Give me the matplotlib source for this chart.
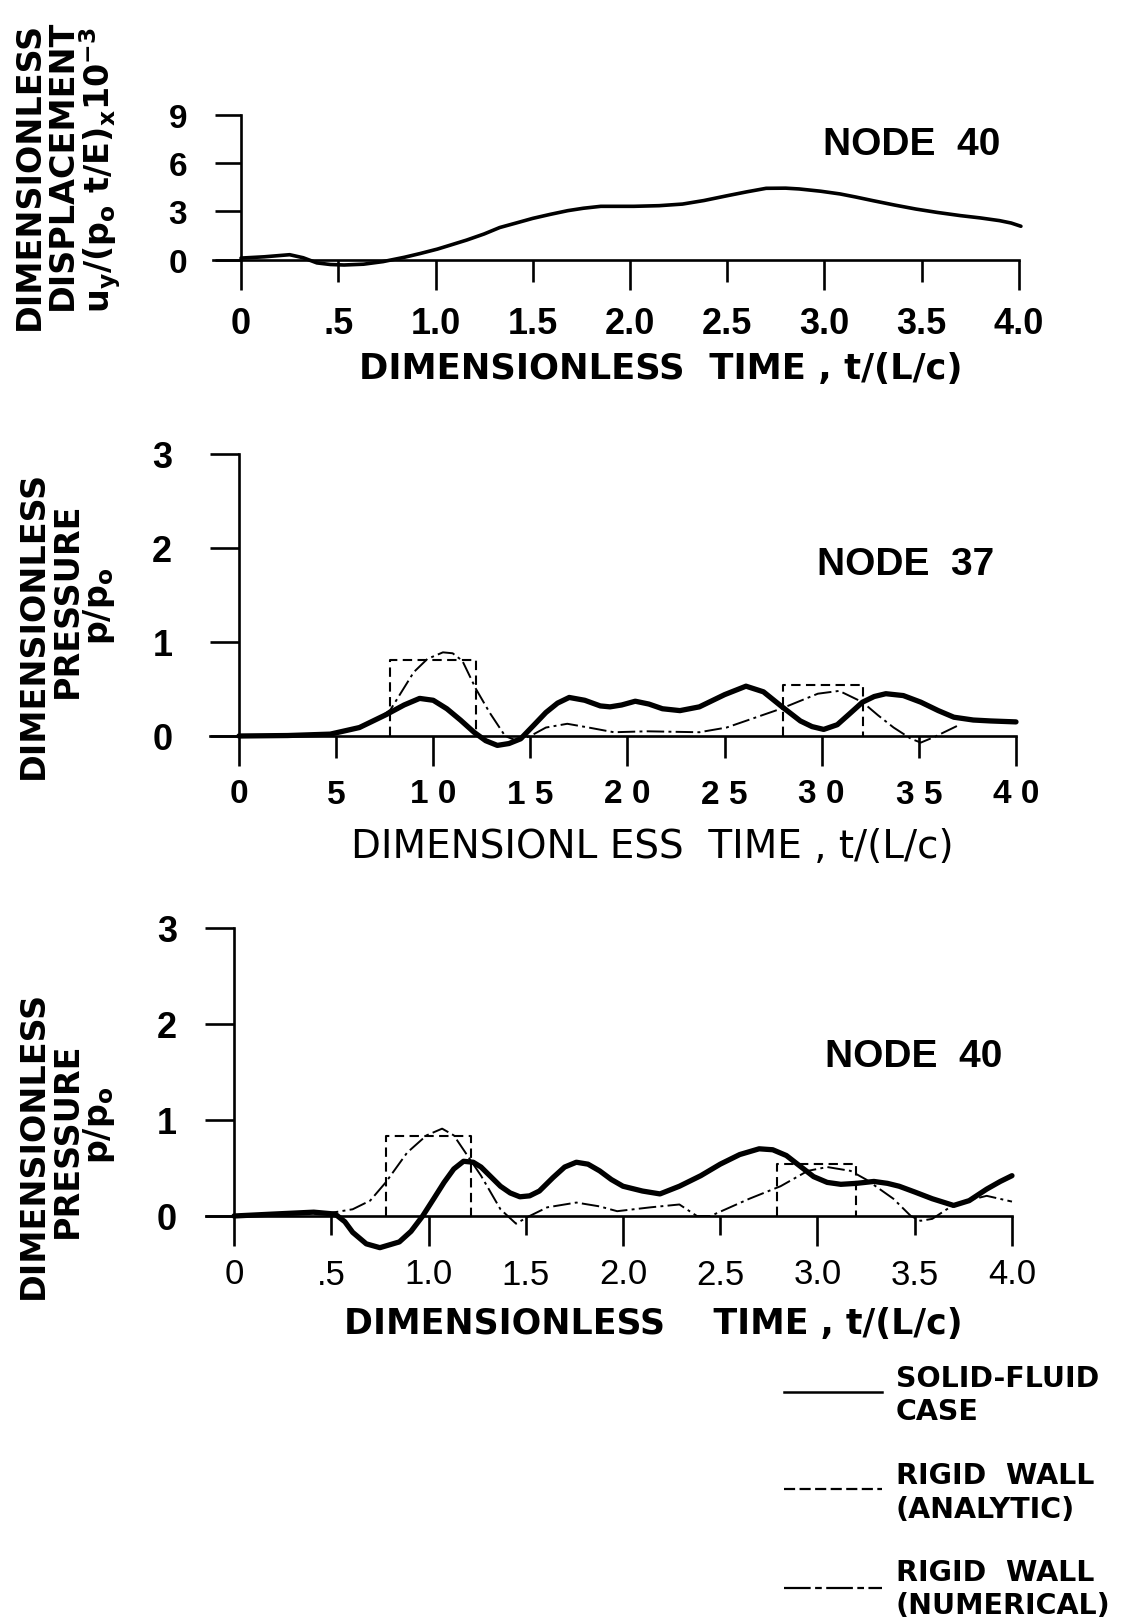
import matplotlib.pyplot as plt
from matplotlib.lines import Line2D

plt.rcParams['font.family'] = ['Liberation Sans', 'DejaVu Sans']
plt.rcParams['mathtext.fontset'] = 'custom'
plt.rcParams['mathtext.rm'] = 'DejaVu Sans'
plt.rcParams['mathtext.it'] = 'DejaVu Sans'
plt.rcParams['mathtext.bf'] = 'DejaVu Sans:bold'
plt.rcParams['mathtext.default'] = 'bf'

# --- node 40 displacement ---
disp_t = [0, 0.12, 0.25, 0.32, 0.39, 0.46, 0.53, 0.63, 0.73, 0.84, 0.92, 1.01, 1.08,
          1.16, 1.25, 1.33, 1.42, 1.50, 1.59, 1.68, 1.76, 1.85, 2.02, 2.15, 2.27, 2.38,
          2.50, 2.60, 2.70, 2.80, 2.87, 2.98, 3.08, 3.16, 3.25, 3.36, 3.47, 3.58, 3.70,
          3.80, 3.90, 3.96, 4.01]
disp_u = [0.1, 0.18, 0.31, 0.12, -0.2, -0.3, -0.33, -0.28, -0.12, 0.15, 0.38, 0.66, 0.92,
          1.22, 1.6, 2.0, 2.3, 2.57, 2.82, 3.05, 3.2, 3.32, 3.32, 3.36, 3.46, 3.68,
          3.98, 4.22, 4.44, 4.45, 4.4, 4.26, 4.09, 3.9, 3.67, 3.4, 3.15, 2.94, 2.74,
          2.6, 2.43, 2.28, 2.08]

# --- node 37 pressure ---
n37_t = [0, 0.25, 0.47, 0.62, 0.76, 0.85, 0.93, 1.0, 1.07, 1.14, 1.21, 1.27, 1.33, 1.39,
         1.45, 1.52, 1.58, 1.64, 1.70, 1.78, 1.86, 1.91, 1.97, 2.04, 2.11, 2.18, 2.27,
         2.37, 2.5, 2.61, 2.7, 2.79, 2.89, 2.95, 3.01, 3.08, 3.14, 3.21, 3.27, 3.33,
         3.42, 3.51, 3.6, 3.68, 3.78, 3.87, 4.0]
n37_solid = [0, 0.005, 0.02, 0.09, 0.23, 0.33, 0.40, 0.38, 0.29, 0.17, 0.04, -0.05, -0.10,
             -0.08, -0.03, 0.12, 0.25, 0.35, 0.41, 0.38, 0.32, 0.31, 0.33, 0.37, 0.34, 0.29,
             0.27, 0.31, 0.44, 0.53, 0.47, 0.32, 0.16, 0.10, 0.07, 0.12, 0.23, 0.36, 0.42,
             0.45, 0.43, 0.36, 0.27, 0.20, 0.17, 0.16, 0.15]
n37_num_t = [0, 0.25, 0.47, 0.62, 0.70, 0.78, 0.84, 0.90, 0.97, 1.05, 1.10, 1.15, 1.22,
             1.29, 1.37, 1.43, 1.50, 1.58, 1.69, 1.80, 1.93, 2.1, 2.37, 2.51, 2.65, 2.79,
             2.98, 3.09, 3.21, 3.29, 3.37, 3.46, 3.51, 3.58, 3.70]
n37_num = [0, 0.005, 0.02, 0.09, 0.16, 0.28, 0.48, 0.68, 0.82, 0.89, 0.88, 0.80, 0.50,
           0.25, 0.0, -0.05, 0.0, 0.09, 0.13, 0.09, 0.04, 0.05, 0.04, 0.09, 0.19, 0.29,
           0.45, 0.48, 0.36, 0.22, 0.09, -0.03, -0.07, -0.01, 0.11]
n37_pulse_start = [0.78, 2.80]
n37_pulse_end = [1.22, 3.21]
n37_pulse_height = [0.81, 0.54]

# --- node 40 pressure ---
n40_t = [0, 0.2, 0.41, 0.52, 0.57, 0.61, 0.68, 0.75, 0.85, 0.91, 0.97, 1.03, 1.08, 1.13,
         1.18, 1.23, 1.27, 1.32, 1.37, 1.42, 1.47, 1.52, 1.57, 1.64, 1.70, 1.76, 1.82,
         1.88, 1.94, 2.0, 2.1, 2.19, 2.29, 2.40, 2.5, 2.6, 2.70, 2.77, 2.84, 2.91, 2.98,
         3.05, 3.12, 3.2, 3.29, 3.36, 3.42, 3.5, 3.59, 3.70, 3.78, 3.87, 3.94, 4.0]
n40_solid = [0, 0.02, 0.04, 0.02, -0.06, -0.17, -0.29, -0.33, -0.27, -0.16, 0.0, 0.19,
             0.35, 0.49, 0.57, 0.56, 0.51, 0.41, 0.31, 0.24, 0.20, 0.21, 0.26, 0.40, 0.51,
             0.56, 0.54, 0.47, 0.38, 0.31, 0.26, 0.23, 0.31, 0.42, 0.54, 0.64, 0.70, 0.69,
             0.63, 0.52, 0.41, 0.35, 0.33, 0.34, 0.36, 0.34, 0.31, 0.25, 0.18, 0.11, 0.16,
             0.28, 0.36, 0.42]
n40_num_t = [0, 0.2, 0.49, 0.61, 0.70, 0.78, 0.89, 0.99, 1.07, 1.13, 1.20, 1.27, 1.37,
             1.45, 1.51, 1.61, 1.76, 1.88, 1.97, 2.14, 2.29, 2.38, 2.45, 2.65, 2.81, 2.95,
             3.05, 3.17, 3.25, 3.39, 3.48, 3.53, 3.59, 3.68, 3.77, 3.87, 4.0]
n40_num = [0, 0.01, 0.03, 0.07, 0.16, 0.35, 0.66, 0.84, 0.91, 0.84, 0.63, 0.42, 0.07,
           -0.08, -0.01, 0.09, 0.14, 0.10, 0.05, 0.09, 0.12, 0.0, 0.0, 0.18, 0.31, 0.47,
           0.51, 0.47, 0.38, 0.18, 0.0, -0.05, -0.03, 0.09, 0.16, 0.21, 0.15]
n40_pulse_start = [0.78, 2.79]
n40_pulse_end = [1.22, 3.20]
n40_pulse_height = [0.83, 0.54]

major_t = [0, 1, 2, 3, 4]
minor_t = [0.5, 1.5, 2.5, 3.5]
dec_major = ['0', '1.0', '2.0', '3.0', '4.0']
dec_minor = ['.5', '1.5', '2.5', '3.5']
spaced_major = ['0', '1 0', '2 0', '3 0', '4 0']
spaced_minor = ['5', '1 5', '2 5', '3 5']

W, H = 1121, 1624
AX_LW = 1.9
NUM_DASH = (9, 2.2, 1.5, 2.2)
ANA_DASH = (4.5, 2.6)
WIDE = ['DejaVu Sans']

fig = plt.figure(figsize=(W / 100, H / 100), dpi=100)


def fx(x):
    return x / W


def fy(y):
    return 1 - y / H


def box(left, right, bottom, top):
    return [fx(left), fy(bottom), (right - left) / W, (bottom - top) / H]


def setup(ax, xlo, ymax, yticks, maj_lbl, min_lbl, weight, ytick_len, ypad,
          maj_pad, min_pad, maj_len, min_len, fs=22, yfs=25):
    for s in ['top', 'right']:
        ax.spines[s].set_visible(False)
    ax.spines['left'].set_position(('data', 0))
    ax.spines['bottom'].set_position(('data', 0))
    ax.spines['left'].set_bounds(0, ymax)
    ax.spines['bottom'].set_bounds(xlo, 4.0)
    for s in ['left', 'bottom']:
        ax.spines[s].set_linewidth(AX_LW)
    ax.set_xticks(major_t, maj_lbl, fontsize=fs, fontweight=weight)
    ax.set_xticks(minor_t, min_lbl, minor=True, fontsize=fs, fontweight=weight)
    ax.tick_params(axis='x', which='major', direction='out', length=maj_len,
                   width=AX_LW, pad=maj_pad)
    ax.tick_params(axis='x', which='minor', direction='out', length=min_len,
                   width=AX_LW, pad=min_pad)
    ax.set_yticks(yticks, [str(v) for v in yticks], fontsize=yfs, fontweight='bold')
    ax.tick_params(axis='y', direction='out', length=ytick_len, width=AX_LW, pad=ypad)


def pulses(ax, starts, ends, heights):
    for a, b, h in zip(starts, ends, heights):
        ax.plot([a, a, b, b], [0, h, h, 0], color='black', lw=1.5,
                dashes=ANA_DASH)


# top panel: displacement
ax1 = fig.add_axes(box(209.9, 1028.7, 284.8, 112.8))
ax1.set_xlim(-0.16, 4.05)
ax1.set_ylim(-1.5, 9.2)
ax1.plot(disp_t, disp_u, color='black', lw=2.6, solid_joinstyle='round',
         solid_capstyle='round')
setup(ax1, -0.146, 9, [0, 3, 6, 9], dec_major, dec_minor, 'bold', 18.7, 20,
      12, 17.5, 21.6, 15.8, fs=26, yfs=24)
ax1.text(0.965, 0.815, 'NODE  40', transform=ax1.transAxes, ha='right',
         va='center', fontsize=28, fontweight='bold')

# middle panel: node 37 pressure
ax2 = fig.add_axes(box(207.9, 1025.7, 765.2, 450.3))
ax2.set_xlim(-0.16, 4.05)
ax2.set_ylim(-0.3, 3.05)
pulses(ax2, n37_pulse_start, n37_pulse_end, n37_pulse_height)
ax2.plot(n37_num_t, n37_num, color='black', lw=1.4, dashes=NUM_DASH)
ax2.plot(n37_t, n37_solid, color='black', lw=3.8, solid_joinstyle='round',
         solid_capstyle='round')
setup(ax2, -0.15, 3, [0, 1, 2, 3], spaced_major, spaced_minor, 'bold', 21, 27,
      9, 15, 21.6, 15.8, fs=24, yfs=26)
ax2.text(0.962, 0.636, 'NODE  37', transform=ax2.transAxes, ha='right',
         va='center', fontsize=28, fontweight='bold')

# bottom panel: node 40 pressure
ax3 = fig.add_axes(box(202.9, 1021.7, 1260.2, 924.2))
ax3.set_xlim(-0.16, 4.05)
ax3.set_ylim(-0.45, 3.05)
pulses(ax3, n40_pulse_start, n40_pulse_end, n40_pulse_height)
ax3.plot(n40_num_t, n40_num, color='black', lw=1.4, dashes=NUM_DASH)
ax3.plot(n40_t, n40_solid, color='black', lw=3.8, solid_joinstyle='round',
         solid_capstyle='round')
setup(ax3, -0.145, 3, [0, 1, 2, 3], dec_major, dec_minor, 'normal', 21, 20,
      8, 16.5, 21.6, 14, fs=25, yfs=26)
ax3.text(0.977, 0.605, 'NODE  40', transform=ax3.transAxes, ha='right',
         va='center', fontsize=28, fontweight='bold')

# time axis titles
fig.text(fx(661), fy(369), 'DIMENSIONLESS  TIME , t/(L/c)', ha='center', va='center',
         fontsize=25.5, fontweight='bold', family=WIDE)
fig.text(fx(652), fy(847), 'DIMENSIONL ESS  TIME , t/(L/c)', ha='center', va='center',
         fontsize=28, family=WIDE)
fig.text(fx(653), fy(1324), 'DIMENSIONLESS    TIME , t/(L/c)', ha='center', va='center',
         fontsize=25, fontweight='bold', family=WIDE)

# value axis titles
ylab = dict(rotation=90, ha='center', va='center', fontweight='bold', family=WIDE)
fig.text(fx(29), fy(176), 'DIMENSIONLESS', fontsize=24, **ylab)
fig.text(fx(62), fy(165), 'DISPLACEMENT', fontsize=24, **ylab)
fig.text(fx(100), fy(170), r'u$_y$/(p$_o$ t/E)$_x$10$^{-3}$', fontsize=24, **ylab)

fig.text(fx(33), fy(625), 'DIMENSIONLESS', fontsize=24, **ylab)
fig.text(fx(67), fy(600), 'PRESSURE', fontsize=24, **ylab)
fig.text(fx(99), fy(606), r'p/p$_o$', fontsize=24, **ylab)

fig.text(fx(33), fy(1145), 'DIMENSIONLESS', fontsize=24, **ylab)
fig.text(fx(67), fy(1140), 'PRESSURE', fontsize=24, **ylab)
fig.text(fx(99), fy(1125), r'p/p$_o$', fontsize=24, **ylab)

# key
key_style = [dict(lw=1.8), dict(lw=1.6, dashes=(5, 2)), dict(lw=1.6, dashes=(12, 2, 3, 2))]
key_line_y = [1393, 1490, 1589]
key_text_y = [(1379, 1412), (1476, 1510), (1573, 1606)]
key_text = [('SOLID-FLUID', 'CASE'), ('RIGID  WALL', '(ANALYTIC)'),
            ('RIGID  WALL', '(NUMERICAL)')]
for st, ly, (y1, y2), (l1, l2) in zip(key_style, key_line_y, key_text_y, key_text):
    fig.add_artist(Line2D([fx(784), fx(882)], [fy(ly), fy(ly)], color='black',
                          transform=fig.transFigure, **st))
    fig.text(fx(896), fy(y1), l1, ha='left', va='center', fontsize=20.5,
             fontweight='bold', family=WIDE)
    fig.text(fx(896), fy(y2), l2, ha='left', va='center', fontsize=20.5,
             fontweight='bold', family=WIDE)

fig.savefig('out.png', dpi=100)
